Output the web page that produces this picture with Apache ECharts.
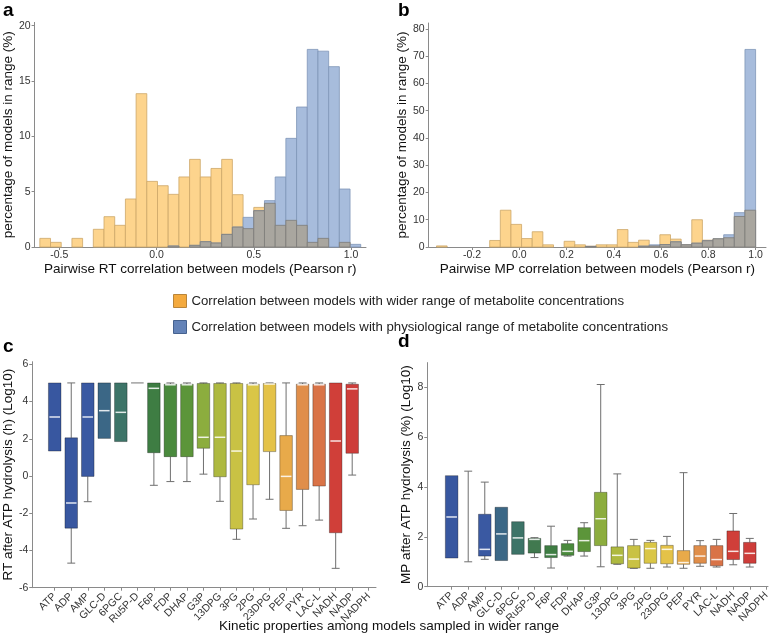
<!DOCTYPE html>
<html><head><meta charset="utf-8">
<script src="https://cdn.jsdelivr.net/npm/echarts@6/dist/echarts.min.js"></script>
<style>html,body{margin:0;padding:0;background:#fff}#chart{width:778px;height:635px}</style>
</head><body><div id="chart"></div>
<script>
// ---------- Panel a: RT correlation histogram ----------
const rtEdges = [-0.6, -0.545, -0.49, -0.435, -0.38, -0.325, -0.27, -0.215, -0.16, -0.105, -0.05, 0.005, 0.06, 0.115, 0.17, 0.225, 0.28, 0.335, 0.39, 0.445, 0.5, 0.555, 0.61, 0.665, 0.72, 0.775, 0.83, 0.885, 0.94, 0.995, 1.05];
const rtWide = [0.78, 0.42, 0, 0.78, 0, 1.6, 2.74, 1.96, 4.34, 13.86, 5.93, 5.54, 4.76, 6.33, 7.92, 6.33, 7.1, 7.92, 4.73, 1.66, 3.58, 3.95, 1.96, 2.41, 1.96, 0.42, 0.78, 0, 0.42, 0];
const rtPhys = [0, 0, 0, 0, 0, 0, 0, 0, 0, 0, 0, 0, 0.09, 0, 0.15, 0.48, 0.36, 1.14, 1.8, 2.68, 3.28, 4.19, 6.33, 9.82, 12.65, 17.86, 17.7, 16.3, 5.24, 0.24];
const rtXTicks = [-0.5, 0, 0.5, 1.0];
const rtYTicks = [0, 5, 10, 15, 20];

// ---------- Panel b: MP correlation histogram ----------
const mpEdges = [-0.35, -0.305, -0.26, -0.215, -0.17, -0.125, -0.08, -0.035, 0.01, 0.055, 0.1, 0.145, 0.19, 0.235, 0.28, 0.325, 0.37, 0.415, 0.46, 0.505, 0.55, 0.595, 0.64, 0.685, 0.73, 0.775, 0.82, 0.865, 0.91, 0.955, 1.0];
const mpWide = [0.4, 0, 0, 0, 0, 2.4, 13.5, 8.3, 3.1, 5.6, 0.8, 0, 2.1, 0.8, 0.3, 0.8, 0.8, 6.4, 1.7, 2.5, 0.4, 4.5, 2.9, 0.9, 10.0, 2.5, 3.0, 3.4, 11.2, 13.5];
const mpPhys = [0, 0, 0, 0, 0, 0, 0, 0, 0, 0, 0, 0, 0, 0, 0.2, 0, 0, 0, 0, 0.3, 0.8, 0.9, 1.9, 0.8, 1.4, 2.3, 3.0, 4.5, 12.6, 72.5];
const mpXTicks = [-0.2, 0, 0.2, 0.4, 0.6, 0.8, 1.0];
const mpYTicks = [0, 10, 20, 30, 40, 50, 60, 70, 80];

// ---------- Panels c, d: box plots ----------
const cats = ['ATP', 'ADP', 'AMP', 'GLC-D', '6PGC', 'Ru5P-D', 'F6P', 'FDP', 'DHAP', 'G3P', '13DPG', '3PG', '2PG', '23DPG', 'PEP', 'PYR', 'LAC-L', 'NADH', 'NADP', 'NADPH'];
const catPos = [1, 2, 3, 4, 5, 6, 7, 8, 9, 10, 11, 12, 13, 14, 15, 16, 17, 18, 19, 20];

const rtMax = [5.0, 5.0, 5.0, 5.0, 5.0, 5.0, 5.0, 5.0, 5.0, 5.0, 5.0, 5.0, 5.0, 5.0, 5.0, 5.0, 5.0, 5.0, 5.0, null];
const rtQ3  = [5.0, 2.05, 5.0, 5.0, 5.0, 5.0, 5.0, 4.93, 4.93, 4.97, 4.97, 4.97, 4.93, 4.97, 2.17, 4.93, 4.93, 5.0, 4.93, null];
const rtMed = [3.17, -1.45, 3.17, 3.51, 3.42, 5.0, 4.71, 4.9, 4.9, 2.08, 2.08, 1.34, 4.9, 4.94, -0.02, 4.9, 4.9, 1.88, 4.68, null];
const rtQ1  = [1.34, -2.8, -0.02, 2.02, 1.85, 5.0, 1.25, 1.04, 1.04, 1.49, -0.04, -2.85, -0.47, 1.31, -1.85, -0.72, -0.54, -3.05, 1.22, null];
const rtMin = [1.34, -4.68, -1.38, 2.02, 1.85, 5.0, -0.5, -0.3, -0.3, 0.1, -1.36, -3.4, -2.31, -1.25, -2.81, -2.67, -2.37, -4.96, 0.05, null];
const rtBoxYTicks = [-6, -4, -2, 0, 2, 4, 6];

const mpMax = [4.46, 4.64, 4.2, 3.19, 2.61, 1.97, 2.43, 1.86, 2.57, 8.12, 4.53, 1.9, 1.86, 2.02, 4.58, 1.85, 1.9, 2.94, 1.94, null];
const mpQ3  = [4.46, null, 2.91, 3.19, 2.61, 1.94, 1.65, 1.73, 2.37, 3.79, 1.6, 1.65, 1.78, 1.66, 1.45, 1.65, 1.65, 2.24, 1.78, null];
const mpMed = [2.8, null, 1.5, 2.12, 1.96, 1.9, 1.29, 1.42, 1.85, 2.73, 1.26, 1.11, 1.53, 1.5, 0.97, 1.23, 1.09, 1.42, 1.34, null];
const mpQ1  = [1.15, null, 1.23, 1.05, 1.3, 1.35, 1.17, 1.26, 1.41, 1.65, 0.92, 0.75, 0.94, 0.92, 0.9, 0.94, 0.84, 1.09, 0.94, null];
const mpMin = [1.15, 1.0, 1.1, 1.05, 1.3, 1.17, 0.75, 1.23, 1.23, 0.8, 0.9, 0.74, 0.74, 0.79, 0.74, 0.82, 0.79, 0.88, 0.79, null];
const mpBoxYTicks = [0, 2, 4, 6, 8];

// ---------- styles ----------
const boxColors = ['#3857A0', '#3857A0', '#3A59A2', '#3B6786', '#3D7468', '#41794F', '#3E7D43', '#4A8A3D', '#5C953A', '#8CAD3E', '#AEB940', '#C9C244', '#DAC646', '#E4C248', '#E8AA4A', '#E08E4A', '#D97347', '#D03F39', '#CE3D3A', '#CE3D3A'];
const FONT = 'Arial, "Liberation Sans", sans-serif';
const AX = '#8a8a8a';
const LEG1 = 'Correlation between models with wider range of metabolite concentrations';
const LEG2 = 'Correlation between models with physiological range of metabolite concentrations';

function valAxis(o) {
  return {
    gridIndex: o.grid, type: 'value', min: o.min, max: o.max,
    axisLine: {show: true, onZero: false, lineStyle: {color: AX, width: 1}},
    axisTick: {show: true, length: 3, customValues: o.ticks, lineStyle: {color: AX}},
    axisLabel: {show: true, customValues: o.ticks, formatter: o.fmt, rotate: o.rotate || 0,
      margin: o.margin == null ? 4 : o.margin, fontSize: 10.5, color: '#333', fontFamily: FONT},
    splitLine: {show: false},
    name: o.name, nameLocation: 'middle', nameGap: o.gap,
    nameTextStyle: {fontSize: 13.5, color: '#111', fontFamily: FONT}
  };
}

function hist(name, idx, edges, vals, fill, stroke, z) {
  return {
    type: 'custom', name: name, xAxisIndex: idx, yAxisIndex: idx, z: z, silent: true,
    itemStyle: {color: fill},
    encode: {x: [0, 1], y: 2},
    data: vals.map((v, i) => [edges[i], edges[i + 1], v]),
    renderItem: function (params, api) {
      const v = api.value(2);
      if (!v) return null;
      const a = api.coord([api.value(0), v]);
      const b = api.coord([api.value(1), 0]);
      return {type: 'rect', shape: {x: a[0], y: a[1], width: b[0] - a[0], height: b[1] - a[1]},
        style: {fill: fill, stroke: stroke, lineWidth: 0.8}};
    }
  };
}

function ok(v) { return v !== null && v !== undefined && !isNaN(v); }

function boxSeries(idx, mins, q1s, meds, q3s, maxs) {
  return {
    type: 'custom', xAxisIndex: idx, yAxisIndex: idx, silent: true, z: 3,
    encode: {x: 0, y: [1, 2, 3, 4, 5]},
    data: catPos.map((p, i) => [p, mins[i], q1s[i], meds[i], q3s[i], maxs[i]]),
    renderItem: function (params, api) {
      const i = params.dataIndex;
      const x = api.value(0);
      const vmin = mins[i], vq1 = q1s[i], vmed = meds[i], vq3 = q3s[i], vmax = maxs[i];
      const hw = api.size([0.76, 0])[0] / 2;
      const cw = api.size([0.48, 0])[0] / 2;
      const cx = api.coord([x, 0])[0];
      const ch = [];
      const wStyle = {stroke: '#6f6f6f', lineWidth: 1};
      const hasBox = ok(vq1) && ok(vq3);
      if (ok(vmax)) {
        const from = hasBox ? vq3 : vmin;
        if (vmax > from + 0.001) {
          const y0 = api.coord([x, from])[1], y1 = api.coord([x, vmax])[1];
          ch.push({type: 'line', shape: {x1: cx, y1: y0, x2: cx, y2: y1}, style: wStyle});
          ch.push({type: 'line', shape: {x1: cx - cw, y1: y1, x2: cx + cw, y2: y1}, style: wStyle});
        }
      }
      if (ok(vmin)) {
        const from = hasBox ? vq1 : vmin;
        if (hasBox && vmin < from - 0.001) {
          const y0 = api.coord([x, from])[1], y1 = api.coord([x, vmin])[1];
          ch.push({type: 'line', shape: {x1: cx, y1: y0, x2: cx, y2: y1}, style: wStyle});
          ch.push({type: 'line', shape: {x1: cx - cw, y1: y1, x2: cx + cw, y2: y1}, style: wStyle});
        } else if (!hasBox) {
          const y1 = api.coord([x, vmin])[1];
          ch.push({type: 'line', shape: {x1: cx - cw, y1: y1, x2: cx + cw, y2: y1}, style: wStyle});
        }
      }
      if (hasBox) {
        const yt = api.coord([x, vq3])[1], yb = api.coord([x, vq1])[1];
        ch.push({type: 'rect', shape: {x: cx - hw, y: yt, width: 2 * hw, height: yb - yt},
          style: {fill: boxColors[i], stroke: 'rgba(0,0,0,0.3)', lineWidth: 1}});
        if (ok(vmed) && yb - yt > 1) {
          const ym = api.coord([x, vmed])[1];
          ch.push({type: 'line', shape: {x1: cx - hw + 1, y1: ym, x2: cx + hw - 1, y2: ym},
            style: {stroke: 'rgba(255,255,255,0.85)', lineWidth: 1.5}});
        }
      }
      return {type: 'group', children: ch};
    }
  };
}

const chart = echarts.init(document.getElementById('chart'), null, {renderer: 'canvas'});
const option = {
  animation: false,
  backgroundColor: '#fff',
  textStyle: {fontFamily: FONT},
  grid: [
    {left: 31, top: 22.4, width: 335, height: 224.6},
    {left: 428.7, top: 23, width: 337.3, height: 224},
    {left: 30.7, top: 361.7, width: 345.3, height: 226},
    {left: 427.3, top: 362.6, width: 340.7, height: 224.1}
  ],
  xAxis: [
    valAxis({grid: 0, min: -0.627, max: 1.077, ticks: rtXTicks, fmt: v => v.toFixed(1),
      name: 'Pairwise RT correlation between models (Pearson r)', gap: 14, margin: 3}),
    valAxis({grid: 1, min: -0.383, max: 1.044, ticks: mpXTicks, fmt: v => v.toFixed(1),
      name: 'Pairwise MP correlation between models (Pearson r)', gap: 14, margin: 3}),
    valAxis({grid: 2, min: -0.36, max: 20.44, ticks: catPos, fmt: v => cats[Math.round(v) - 1],
      rotate: 45, margin: 7}),
    valAxis({grid: 3, min: -0.47, max: 20.1, ticks: catPos, fmt: v => cats[Math.round(v) - 1],
      rotate: 45, margin: 7})
  ],
  yAxis: [
    valAxis({grid: 0, min: 0, max: 20.3, ticks: rtYTicks, name: 'percentage of models in range (%)', gap: 11}),
    valAxis({grid: 1, min: 0, max: 82.2, ticks: mpYTicks, name: 'percentage of models in range (%)', gap: 15}),
    valAxis({grid: 2, min: -6, max: 6.14, ticks: rtBoxYTicks, name: 'RT after ATP hydrolysis (h) (Log10)', gap: 12}),
    valAxis({grid: 3, min: 0, max: 9, ticks: mpBoxYTicks, name: 'MP after ATP hydrolysis (%) (Log10)', gap: 13})
  ],
  legend: {
    orient: 'vertical', left: 168, top: 289, itemWidth: 13, itemHeight: 13, itemGap: 12,
    icon: 'rect', selectedMode: false,
    textStyle: {fontSize: 13.2, color: '#222', fontFamily: FONT},
    data: [
      {name: LEG1, itemStyle: {color: '#F4AA3E', borderColor: '#B9853A', borderWidth: 1}},
      {name: LEG2, itemStyle: {color: '#6483B8', borderColor: '#46628F', borderWidth: 1}}
    ]
  },
  graphic: [
    {type: 'text', left: 3, top: 1, style: {text: 'a', font: 'bold 19px ' + FONT, fill: '#000'}},
    {type: 'text', left: 398, top: 1, style: {text: 'b', font: 'bold 19px ' + FONT, fill: '#000'}},
    {type: 'text', left: 3, top: 337, style: {text: 'c', font: 'bold 19px ' + FONT, fill: '#000'}},
    {type: 'text', left: 398, top: 332, style: {text: 'd', font: 'bold 19px ' + FONT, fill: '#000'}},
    {type: 'text', left: 'center', top: 619, style: {text: 'Kinetic properties among models sampled in wider range', font: '13.5px ' + FONT, fill: '#111'}}
  ],
  series: [
    hist(LEG1, 0, rtEdges, rtWide, '#FDD48D', '#CDA768', 2),
    hist(LEG2, 0, rtEdges, rtPhys, '#A7BCDC', '#7F95B8', 3),
    hist('overlapA', 0, rtEdges, rtWide.map((w, i) => Math.min(w, rtPhys[i])), '#A9A69F', '#7E7C78', 4),
    hist(LEG1, 1, mpEdges, mpWide, '#FDD48D', '#CDA768', 2),
    hist(LEG2, 1, mpEdges, mpPhys, '#A7BCDC', '#7F95B8', 3),
    hist('overlapB', 1, mpEdges, mpWide.map((w, i) => Math.min(w, mpPhys[i])), '#A9A69F', '#7E7C78', 4),
    boxSeries(2, rtMin, rtQ1, rtMed, rtQ3, rtMax),
    boxSeries(3, mpMin, mpQ1, mpMed, mpQ3, mpMax)
  ]
};
chart.setOption(option);
</script>
</body></html>
